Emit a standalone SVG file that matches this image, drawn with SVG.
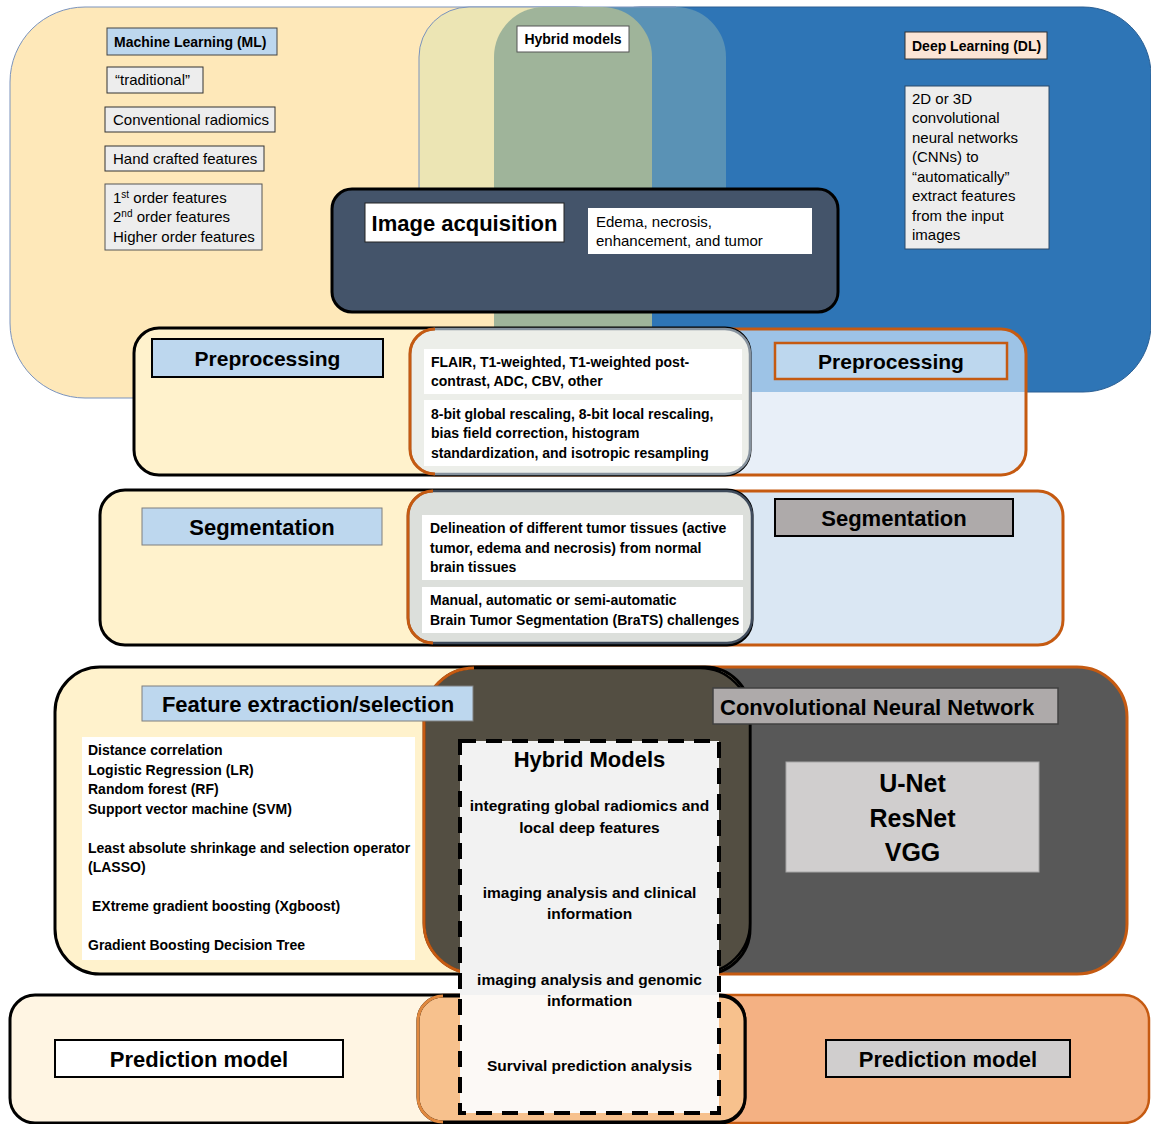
<svg xmlns="http://www.w3.org/2000/svg" width="1151" height="1124" viewBox="0 0 1151 1124">
<defs>
<style>
text{font-family:"Liberation Sans",Arial,sans-serif;fill:#000}
.b{font-weight:bold}
.r15{font-size:15px}
.b14{font-size:14px;font-weight:bold}
.h22{font-size:22px;font-weight:bold}
.hy{font-size:15.5px;font-weight:bold}
.lab{stroke-width:1}
.blk{stroke:#000;stroke-width:3}
.org{stroke:#C55A11;stroke-width:3}
.mid{text-anchor:middle}
</style>
<clipPath id="archClip"><path d="M419,260 V57 A50,50 0 0 1 469,7 H676 A50,50 0 0 1 726,57 V260 Z"/></clipPath>
<clipPath id="preClip"><rect x="410" y="329" width="616" height="146" rx="25"/></clipPath>
</defs>
<rect width="1151" height="1124" fill="#fff"/>

<g id="ml-region">
<rect x="10" y="7" width="640" height="391" rx="75" fill="#FEE8B9" stroke="#7A93BD" stroke-width="1"/>
</g>
<g id="dl-region">
<rect x="573" y="7" width="578" height="385" rx="68" fill="#2E75B6" stroke="#2A5F94" stroke-width="1"/>
</g>
<g id="hybrid-region">
<g clip-path="url(#archClip)">
<rect x="419" y="7" width="154" height="260" fill="#ECE5B4"/>
<rect x="573" y="7" width="153" height="260" fill="#5A92B5"/>
</g>
<path d="M419,260 V57 A50,50 0 0 1 469,7 H676" fill="none" stroke="#7A93BD" stroke-width="1"/>
<rect x="494" y="7" width="158" height="413" rx="50" fill="#9FB49A"/>
<rect x="517" y="26" width="112" height="26" fill="#fff" stroke="#555" stroke-width="1"/>
<text class="b14 mid" x="573" y="44">Hybrid models</text>
</g>

<g id="ml-labels">
<rect x="107" y="28" width="170" height="27" fill="#BDD7EE" stroke="#444" class="lab"/>
<text class="b14" x="114" y="47">Machine Learning (ML)</text>
<rect x="107" y="67" width="96" height="26" fill="#EDEDED" stroke="#333" class="lab"/>
<text class="r15" x="115" y="85">“traditional”</text>
<rect x="105" y="107" width="170" height="25" fill="#EDEDED" stroke="#333" class="lab"/>
<text class="r15" x="113" y="125">Conventional radiomics</text>
<rect x="105" y="146" width="159" height="25" fill="#EDEDED" stroke="#333" class="lab"/>
<text class="r15" x="113" y="164">Hand crafted features</text>
<rect x="105" y="184" width="157" height="66" fill="#EDEDED" stroke="#555" class="lab"/>
<text class="r15" x="113" y="203">1<tspan font-size="10" dy="-5">st</tspan><tspan dy="5"> order features</tspan></text>
<text class="r15" x="113" y="222">2<tspan font-size="10" dy="-5">nd</tspan><tspan dy="5"> order features</tspan></text>
<text class="r15" x="113" y="242">Higher order features</text>
</g>

<g id="dl-labels">
<rect x="905" y="32" width="142" height="27" fill="#FBE5D6" stroke="#333" class="lab"/>
<text class="b14" x="912" y="51">Deep Learning (DL)</text>
<rect x="905" y="86" width="144" height="163" fill="#EDEDED" stroke="#2A4A6A" class="lab"/>
<text class="r15" x="912" y="104">2D or 3D</text>
<text class="r15" x="912" y="123">convolutional</text>
<text class="r15" x="912" y="143">neural networks</text>
<text class="r15" x="912" y="162">(CNNs) to</text>
<text class="r15" x="912" y="182">“automatically”</text>
<text class="r15" x="912" y="201">extract features</text>
<text class="r15" x="912" y="221">from the input</text>
<text class="r15" x="912" y="240">images</text>
</g>

<g id="image-acquisition">
<rect x="332" y="189" width="506" height="123" rx="20" fill="#44546A" class="blk"/>
<rect x="365" y="203" width="199" height="39" fill="#fff" stroke="#222" stroke-width="1"/>
<text class="h22 mid" x="464.5" y="231">Image acquisition</text>
<rect x="588" y="208" width="224" height="46" fill="#fff"/>
<text class="r15" x="596" y="227">Edema, necrosis,</text>
<text class="r15" x="596" y="246">enhancement, and tumor</text>
</g>

<g id="preprocessing">
<rect x="410" y="329" width="616" height="146" rx="25" fill="#E8EFF8"/>
<rect x="740" y="329" width="290" height="63" fill="#9DC3E6" clip-path="url(#preClip)"/>
<rect x="410" y="329" width="616" height="146" rx="25" fill="none" class="org"/>
<rect x="134" y="328" width="616" height="147" rx="25" fill="#FFF2CC" class="blk"/>
<rect x="410" y="329" width="340" height="145" rx="25" fill="#ECEEE9" stroke="#86929E" stroke-width="2.5"/>
<path d="M435,329 A25,25 0 0 0 410,354 V449 A25,25 0 0 0 435,474" fill="none" class="org"/>
<rect x="424" y="349" width="318" height="45" fill="#fff"/>
<rect x="424" y="400" width="318" height="66" fill="#fff"/>
<text class="b14" x="431" y="367">FLAIR, T1-weighted, T1-weighted post-</text>
<text class="b14" x="431" y="386">contrast, ADC, CBV, other</text>
<text class="b14" x="431" y="419">8-bit global rescaling, 8-bit local rescaling,</text>
<text class="b14" x="431" y="438">bias field correction, histogram</text>
<text class="b14" x="431" y="458">standardization, and isotropic resampling</text>
<rect x="152" y="339" width="231" height="38" fill="#BDD7EE" stroke="#000" stroke-width="2"/>
<text class="b mid" font-size="21" x="267.5" y="366">Preprocessing</text>
<rect x="775" y="343" width="232" height="36" fill="#BDD7EE" stroke="#C55A11" stroke-width="2.5"/>
<text class="b mid" font-size="21" x="891" y="369">Preprocessing</text>
</g>

<g id="segmentation">
<rect x="408" y="491" width="655" height="154" rx="25" fill="#DAE7F3" class="org"/>
<rect x="100" y="490" width="652" height="155" rx="25" fill="#FFF2CC" class="blk"/>
<rect x="408" y="491" width="344" height="152" rx="25" fill="#DCDFDB" stroke="#3F4B5B" stroke-width="2.5"/>
<path d="M433,491 A25,25 0 0 0 408,516 V618 A25,25 0 0 0 433,643" fill="none" class="org"/>
<rect x="422" y="515" width="321" height="65" fill="#fff"/>
<rect x="422" y="587" width="321" height="46" fill="#fff"/>
<text class="b14" x="430" y="533">Delineation of different tumor tissues (active</text>
<text class="b14" x="430" y="553">tumor, edema and necrosis) from normal</text>
<text class="b14" x="430" y="572">brain tissues</text>
<text class="b14" x="430" y="605">Manual, automatic or semi-automatic</text>
<text class="b14" x="430" y="625">Brain Tumor Segmentation (BraTS) challenges</text>
<rect x="142" y="508" width="240" height="37" fill="#BDD7EE" stroke="#7F7F7F" stroke-width="1"/>
<text class="h22 mid" x="262" y="535">Segmentation</text>
<rect x="775" y="499" width="238" height="37" fill="#AEAAAA" stroke="#000" stroke-width="2"/>
<text class="h22 mid" x="894" y="526">Segmentation</text>
</g>

<g id="feature-extraction">
<rect x="424" y="667" width="703" height="307" rx="50" fill="#585858" class="org"/>
<rect x="55" y="667" width="695" height="307" rx="45" fill="#FFF2CC" class="blk"/>
<rect x="424" y="668" width="326" height="305" rx="50" fill="#534E42" stroke="#000" stroke-width="2.5"/>
<path d="M474,668 A50,50 0 0 0 424,718 V923 A50,50 0 0 0 474,973" fill="none" class="org"/>
<rect x="142" y="686" width="331" height="35" fill="#BDD7EE" stroke="#7F7F7F" stroke-width="1"/>
<text class="h22 mid" x="308" y="712">Feature extraction/selection</text>
<rect x="82" y="737" width="333" height="223" fill="#fff"/>
<text class="b14" x="88" y="755">Distance correlation</text>
<text class="b14" x="88" y="775">Logistic Regression (LR)</text>
<text class="b14" x="88" y="794">Random forest (RF)</text>
<text class="b14" x="88" y="814">Support vector machine (SVM)</text>
<text class="b14" x="88" y="853">Least absolute shrinkage and selection operator</text>
<text class="b14" x="88" y="872">(LASSO)</text>
<text class="b14" x="92" y="911">EXtreme gradient boosting (Xgboost)</text>
<text class="b14" x="88" y="950">Gradient Boosting Decision Tree</text>
</g>

<g id="cnn">
<rect x="713" y="688" width="345" height="36" fill="#AEAAAA" stroke="#404040" stroke-width="1.5"/>
<text class="h22" x="720" y="715">Convolutional Neural Network</text>
<rect x="786" y="762" width="253" height="110" fill="#D0CECE" stroke="#A6A6A6" stroke-width="1"/>
<text class="b mid" font-size="25" x="912.5" y="792">U-Net</text>
<text class="b mid" font-size="25" x="912.5" y="827">ResNet</text>
<text class="b mid" font-size="25" x="912.5" y="861">VGG</text>
</g>

<g id="prediction">
<rect x="418" y="995" width="731" height="128" rx="25" fill="#F4B183" stroke="#C55A11" stroke-width="2.5"/>
<rect x="10" y="995" width="735" height="128" rx="25" fill="#FFF5E3" class="blk"/>
<rect x="418" y="996" width="327" height="126" rx="25" fill="#F7C18D" stroke="#000" stroke-width="3"/>
<path d="M443,996 A25,25 0 0 0 418,1021 V1097 A25,25 0 0 0 443,1122" fill="none" stroke="#E0883E" stroke-width="3"/>
<rect x="55" y="1040" width="288" height="37" fill="#fff" stroke="#000" stroke-width="2"/>
<text class="h22 mid" x="199" y="1067">Prediction model</text>
<rect x="826" y="1040" width="244" height="37" fill="#D0CECE" stroke="#000" stroke-width="2"/>
<text class="h22 mid" x="948" y="1067">Prediction model</text>
</g>

<g id="hybrid-models">
<rect x="460" y="741" width="259" height="254" fill="#F2F2F2"/>
<rect x="460" y="995" width="259" height="118" fill="#FCF9F6"/>
<rect x="460" y="741" width="259" height="372" fill="none" stroke="#000" stroke-width="4" stroke-dasharray="16 10"/>
<text class="h22 mid" x="589.5" y="767">Hybrid Models</text>
<text class="hy mid" x="589.5" y="811">integrating global radiomics and</text>
<text class="hy mid" x="589.5" y="833">local deep features</text>
<text class="hy mid" x="589.5" y="898">imaging analysis and clinical</text>
<text class="hy mid" x="589.5" y="919">information</text>
<text class="hy mid" x="589.5" y="985">imaging analysis and genomic</text>
<text class="hy mid" x="589.5" y="1006">information</text>
<text class="hy mid" x="589.5" y="1071">Survival prediction analysis</text>
</g>
<g id="connectors"/>
</svg>
